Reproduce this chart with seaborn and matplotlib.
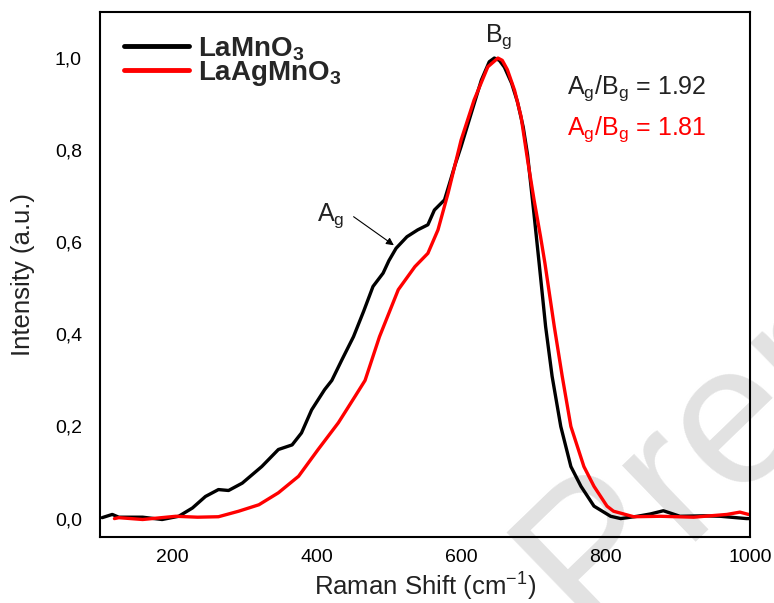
import matplotlib
matplotlib.use("Agg")
import matplotlib.pyplot as plt
import seaborn as sns
from matplotlib.ticker import FuncFormatter

# ---- data ----
black_x = [103, 117, 126, 159, 186, 209, 228, 246, 264, 278, 297, 324, 347, 366, 379, 393, 411, 421,
           435, 451, 465, 478, 492, 500, 510, 525, 540, 554, 563, 577, 584, 592, 600, 614, 628, 639,
           646, 653, 660, 670, 678, 686, 692, 701, 708, 717, 726, 738, 752, 766, 784, 807, 821, 844,
           862, 880, 903, 936, 959, 995, 1000]
black_y = [0.002, 0.009, 0.003, 0.003, -0.002, 0.005, 0.023, 0.048, 0.063, 0.061, 0.077, 0.113, 0.150,
           0.160, 0.186, 0.236, 0.280, 0.300, 0.345, 0.395, 0.450, 0.504, 0.533, 0.560, 0.587, 0.612,
           0.627, 0.638, 0.670, 0.692, 0.728, 0.770, 0.808, 0.880, 0.952, 0.992, 1.000, 0.995, 0.980,
           0.945, 0.905, 0.850, 0.790, 0.660, 0.555, 0.417, 0.309, 0.200, 0.113, 0.070, 0.027, 0.005,
           0.000, 0.005, 0.010, 0.017, 0.005, 0.006, 0.005, 0.000, 0.000]

red_x = [120, 126, 159, 205, 235, 264, 292, 320, 347, 375, 402, 430, 453, 467, 487, 513, 536, 554,
         568, 582, 600, 618, 637, 651, 657, 664, 674, 683, 692, 701, 710, 716, 729, 740, 752, 770,
         784, 802, 811, 839, 876, 922, 968, 986, 998]
red_y = [0.000, 0.002, -0.002, 0.005, 0.003, 0.004, 0.016, 0.030, 0.056, 0.092, 0.150, 0.208, 0.265,
         0.300, 0.395, 0.497, 0.547, 0.576, 0.627, 0.707, 0.822, 0.909, 0.981, 1.000, 0.995, 0.975,
         0.930, 0.873, 0.779, 0.692, 0.612, 0.555, 0.417, 0.309, 0.200, 0.113, 0.070, 0.027, 0.016,
         0.004, 0.005, 0.003, 0.009, 0.014, 0.009]

labels = [r"$\mathbf{LaMnO_3}$", r"$\mathbf{LaAgMnO_3}$"]
ratio_texts = [r"A$_g$/B$_g$ = 1.92", r"A$_g$/B$_g$ = 1.81"]
x_ticks = [200, 400, 600, 800, 1000]
y_ticks = [0.0, 0.2, 0.4, 0.6, 0.8, 1.0]

# ---- style ----
sns.set_theme(style="white")
plt.rcParams["font.family"] = ["Liberation Sans", "DejaVu Sans"]
plt.rcParams["mathtext.fontset"] = "custom"
plt.rcParams["mathtext.rm"] = "Liberation Sans"
plt.rcParams["mathtext.it"] = "Liberation Sans:italic"
plt.rcParams["mathtext.bf"] = "Liberation Sans:bold"
plt.rcParams["mathtext.default"] = "regular"

fig = plt.figure(figsize=(7.74, 6.03), dpi=100)
ax = fig.add_axes([100 / 774, 66 / 603, 650 / 774, 525 / 603])
ax.set_facecolor("none")

# watermark behind everything
fig.text(586 / 774, (603 - 632) / 603, "Preprints", rotation=44, rotation_mode="anchor",
         ha="left", va="baseline", fontsize=144, color="#e2e2e2", zorder=-1)

sns.lineplot(x=black_x, y=black_y, ax=ax, color="black", lw=2.4, label=labels[0],
             sort=False, estimator=None)
sns.lineplot(x=red_x, y=red_y, ax=ax, color="#ff0000", lw=2.4, label=labels[1],
             sort=False, estimator=None)

ax.set_xlim(100, 1000)
ax.set_ylim(-0.04, 1.1)
ax.set_xticks(x_ticks)
ax.set_yticks(y_ticks)
ax.yaxis.set_major_formatter(FuncFormatter(lambda v, p: f"{v:.1f}".replace(".", ",")))
ax.tick_params(axis="both", length=0, labelsize=14, colors="black")
ax.tick_params(axis="y", pad=13)
ax.tick_params(axis="x", pad=9)

for s in ax.spines.values():
    s.set_color("black")
    s.set_linewidth(1.5)

ax.set_xlabel(r"Raman Shift (cm$^{-1}$)", fontsize=18.5, color="#222222", labelpad=3)
ax.set_ylabel("Intensity (a.u.)", fontsize=18.5, color="#222222", labelpad=14)

leg = ax.legend(loc="upper left", bbox_to_anchor=(0.02, 0.977), frameon=False, fontsize=20,
                handlelength=2.35, handletextpad=0.3, labelspacing=-0.13, borderaxespad=0.0)
for h in leg.get_lines():
    h.set_linewidth(3.5)

ax.text(633, 1.035, r"B$_g$", fontsize=18, color="#222222", ha="left", va="baseline")
ax.text(400, 0.647, r"A$_g$", fontsize=18, color="#222222", ha="left", va="baseline")
ax.annotate("", xy=(510, 0.59), xytext=(448, 0.659),
            arrowprops=dict(arrowstyle="-|>", color="black", lw=0.8, mutation_scale=11))
ax.text(746, 0.923, ratio_texts[0], fontsize=18, color="#222222", ha="left", va="baseline")
ax.text(746, 0.833, ratio_texts[1], fontsize=18, color="#ff0000", ha="left", va="baseline")

fig.savefig("out.png", dpi=100)
